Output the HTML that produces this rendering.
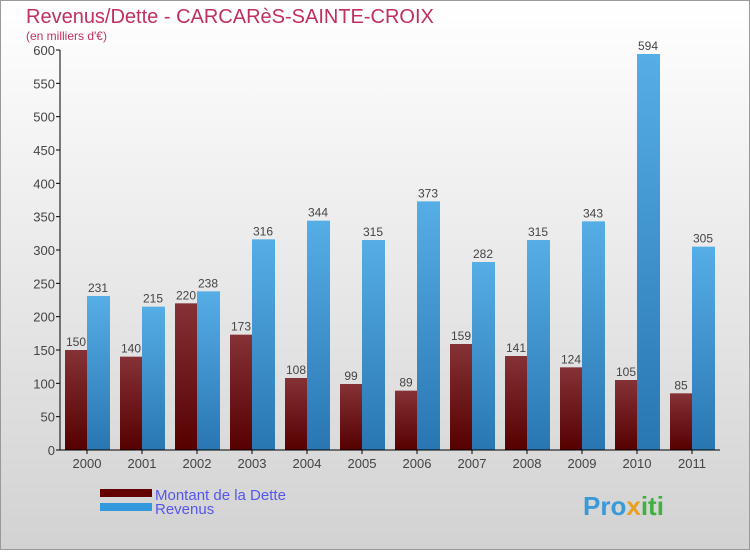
<!DOCTYPE html>
<html><head><meta charset="utf-8"><style>
body{margin:0}
svg text{font-family:"Liberation Sans",sans-serif}
</style></head><body>
<svg width="750" height="550" xmlns="http://www.w3.org/2000/svg">
<defs>
<linearGradient id="bg" x1="0" y1="0" x2="0" y2="1"><stop offset="0" stop-color="#ffffff"/><stop offset="1" stop-color="#d2d2d2"/></linearGradient>
<linearGradient id="gd" x1="0" y1="0" x2="0" y2="1"><stop offset="0" stop-color="#853236"/><stop offset="1" stop-color="#560000"/></linearGradient>
<linearGradient id="gr" x1="0" y1="0" x2="0" y2="1"><stop offset="0" stop-color="#56aee6"/><stop offset="1" stop-color="#2876b2"/></linearGradient>
</defs>
<rect x="0.5" y="0.5" width="749" height="549" fill="url(#bg)" stroke="#999"/>
<text x="26" y="23" font-size="20" fill="#c0305e">Revenus/Dette - CARCARèS-SAINTE-CROIX</text>
<text x="26" y="40" font-size="12" fill="#c0305e">(en milliers d'€)</text>
<g id="plot"></g>
<rect x="100" y="489" width="52" height="8" fill="#650000"/>
<text x="155" y="500" font-size="15" fill="#5555ee">Montant de la Dette</text>
<rect x="100" y="503" width="52" height="8" fill="#3399dd"/>
<text x="155" y="514" font-size="15" fill="#5555ee">Revenus</text>
<text x="583" y="515" font-size="26" font-weight="bold" fill="#3a9ad8">Pro<tspan fill="#e8a020">x</tspan><tspan fill="#40b040">iti</tspan></text>
</svg>
<script>
const years=["2000","2001","2002","2003","2004","2005","2006","2007","2008","2009","2010","2011"];
const dette=[150,140,220,173,108,99,89,159,141,124,105,85];
const revenus=[231,215,238,316,344,315,373,282,315,343,594,305];
const yTicks=[0,50,100,150,200,250,300,350,400,450,500,550,600];
const NS="http://www.w3.org/2000/svg";
const g=document.getElementById('plot');
const y=v=>450-v*400/600;
const xc=i=>87+i*55;
function mk(t,a,p){const e=document.createElementNS(NS,t);for(const k in a)e.setAttribute(k,a[k]);(p||g).appendChild(e);return e;}
yTicks.forEach(t=>{
 const l=mk('line',{x1:56,x2:60,y1:y(t),y2:y(t),stroke:'#000'});
 
 
 const tx=mk('text',{x:55,y:y(t)+5,'font-size':13,'text-anchor':'end',fill:'#444'});tx.textContent=t;
 
 
});
years.forEach((yr,i)=>{
 const c=xc(i);
 const b1=mk('rect',{x:c-22,y:y(dette[i]),width:22,height:450-y(dette[i]),fill:'url(#gd)'});
 
 
 const b2=mk('rect',{x:c,y:y(revenus[i]),width:23,height:450-y(revenus[i]),fill:'url(#gr)'});
 
 
 const t1=mk('text',{x:c-11,y:y(dette[i])-4,'font-size':12,'text-anchor':'middle',fill:'#444'});t1.textContent=dette[i];
 
 
 const t2=mk('text',{x:c+11,y:y(revenus[i])-4,'font-size':12,'text-anchor':'middle',fill:'#444'});t2.textContent=revenus[i];
 
 
 const tk=mk('line',{x1:c,x2:c,y1:450,y2:454,stroke:'#000'});
 
 
 const xl=mk('text',{x:c,y:468,'font-size':13,'text-anchor':'middle',fill:'#444'});xl.textContent=yr;
 
 
});
const ax=mk('line',{x1:60,x2:60,y1:50,y2:450,stroke:'#000'});


const bx=mk('line',{x1:60,x2:720,y1:450,y2:450,stroke:'#000'});


</script>
</body></html>
